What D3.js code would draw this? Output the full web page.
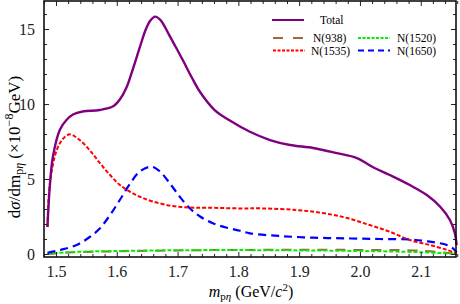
<!DOCTYPE html>
<html>
<head>
<meta charset="utf-8">
<script src="https://cdn.jsdelivr.net/npm/d3@7"></script>
<style>
  body { margin: 0; background: #fff; }
</style>
</head>
<body>
<svg id="chart" width="460" height="304"></svg>
<script>
// data (m in GeV/c^2, dsigma/dm in 1e-8 GeV)
var totalM = [1.486, 1.490, 1.495, 1.5066, 1.5176, 1.528, 1.544, 1.572, 1.594, 1.605, 1.616, 1.627, 1.638, 1.648, 1.655, 1.663, 1.672, 1.685, 1.697, 1.709, 1.723, 1.737, 1.761, 1.786, 1.819, 1.852, 1.885, 1.923, 1.962, 1.995, 2.021, 2.049, 2.082, 2.110, 2.132, 2.148, 2.156, 2.159]
var totalV = [1.8, 4.6, 6.5, 8.3, 8.95, 9.3, 9.5, 9.6, 9.85, 10.3, 11.1, 12.4, 13.8, 15.0, 15.55, 15.83, 15.6, 14.7, 13.8, 12.9, 11.8, 10.8, 9.6, 8.9, 8.15, 7.6, 7.27, 7.07, 6.73, 6.4, 5.8, 5.27, 4.6, 3.93, 3.15, 2.27, 1.4, 0.6]

var n1535M = [1.486, 1.490, 1.501, 1.512, 1.523, 1.539, 1.556, 1.572, 1.589, 1.605, 1.622, 1.638, 1.66, 1.692, 1.72, 1.748, 1.803, 1.840, 1.896, 1.939, 1.979, 2.016, 2.049, 2.082, 2.115, 2.143, 2.158]
var n1535V = [1.8, 4.7, 6.9, 7.7, 7.98, 7.6, 6.9, 6.07, 5.27, 4.6, 4.15, 3.82, 3.49, 3.2, 3.1, 3.09, 3.04, 3.04, 2.93, 2.73, 2.4, 1.93, 1.49, 0.93, 0.6, 0.27, 0.05]

var n1650M = [1.486, 1.507, 1.534, 1.556, 1.572, 1.589, 1.605, 1.622, 1.638, 1.657, 1.671, 1.6875, 1.704, 1.72, 1.737, 1.758, 1.781, 1.803, 1.819, 1.868, 1.923, 1.979, 2.033, 2.082, 2.115, 2.143, 2.153, 2.159]
var n1650V = [0.08, 0.27, 0.6, 1.15, 1.7, 2.6, 3.6, 4.7, 5.5, 5.82, 5.5, 4.7, 3.8, 3.05, 2.5, 2.05, 1.75, 1.55, 1.38, 1.2, 1.09, 1.04, 1.0, 0.97, 0.82, 0.6, 0.38, 0.1]

var smallM = [1.486, 1.52, 1.6, 1.7, 1.8, 1.9, 2.0, 2.1, 2.159]
var n1520V = [0.0, 0.12, 0.2, 0.25, 0.26, 0.24, 0.2, 0.12, 0.0]
var n938V = [0.0, 0.1, 0.18, 0.24, 0.27, 0.28, 0.27, 0.22, 0.0]

var xTicks = [1.5, 1.6, 1.7, 1.8, 1.9, 2.0, 2.1]
var yTicks = [0, 5, 10, 15]

var serif = "'Liberation Serif'"
var svg = d3.select('#chart')
var mLeft = 44, mRight = 456, mTop = 1, mBottom = 257

var x = d3.scaleLinear().domain([1.4803, 2.158]).range([mLeft, mRight])
var y = d3.scaleLinear().domain([-0.2, 16.87]).range([mBottom, mTop])

// curves
var line = d3.line()
  .x(d => x(d[0]))
  .y(d => y(d[1]))
  .curve(d3.curveCatmullRom.alpha(0.5))

var series = [
  { m: smallM, v: n938V, color: '#a0693c', width: 2, dash: '10,8' },
  { m: smallM, v: n1520V, color: '#00ee00', width: 2, dash: '4,2' },
  { m: n1650M, v: n1650V, color: '#0000ff', width: 2.2, dash: '8,5' },
  { m: n1535M, v: n1535V, color: '#ff0000', width: 2, dash: '4,2' },
  { m: totalM, v: totalV, color: '#800080', width: 2.4, dash: null }
]

var plot = svg.append('g')
series.forEach(function(s) {
  plot.append('path')
    .datum(d3.zip(s.m, s.v))
    .attr('d', line)
    .attr('fill', 'none')
    .attr('stroke', s.color)
    .attr('stroke-width', s.width)
    .attr('stroke-dasharray', s.dash)
})

// frame with inward ticks on all sides
var minorX = d3.range(1.48, 2.16, 0.02).filter(v => xTicks.every(t => Math.abs(t - v) > 0.001))
var minorY = d3.range(0, 17, 1).filter(v => v % 5 != 0)

svg.append('g')
  .attr('transform', 'translate(0,' + mBottom + ')')
  .call(d3.axisBottom(x).tickValues(xTicks).tickSizeInner(-5).tickSizeOuter(0).tickPadding(9).tickFormat(d3.format('.1f')))
svg.append('g')
  .attr('transform', 'translate(0,' + mBottom + ')')
  .call(d3.axisBottom(x).tickValues(minorX).tickSizeInner(-3).tickSizeOuter(0).tickFormat(''))
svg.append('g')
  .attr('transform', 'translate(0,' + mTop + ')')
  .call(d3.axisTop(x).tickValues(xTicks).tickSizeInner(-5).tickSizeOuter(0).tickFormat(''))
svg.append('g')
  .attr('transform', 'translate(0,' + mTop + ')')
  .call(d3.axisTop(x).tickValues(minorX).tickSizeInner(-3).tickSizeOuter(0).tickFormat(''))

svg.append('g')
  .attr('transform', 'translate(' + mLeft + ',0)')
  .call(d3.axisLeft(y).tickValues(yTicks).tickSizeInner(-5).tickSizeOuter(0).tickPadding(9))
svg.append('g')
  .attr('transform', 'translate(' + mLeft + ',0)')
  .call(d3.axisLeft(y).tickValues(minorY).tickSizeInner(-3).tickSizeOuter(0).tickFormat(''))
svg.append('g')
  .attr('transform', 'translate(' + mRight + ',0)')
  .call(d3.axisRight(y).tickValues(yTicks).tickSizeInner(-5).tickSizeOuter(0).tickFormat(''))
svg.append('g')
  .attr('transform', 'translate(' + mRight + ',0)')
  .call(d3.axisRight(y).tickValues(minorY).tickSizeInner(-3).tickSizeOuter(0).tickFormat(''))

svg.selectAll('.domain').remove()
svg.selectAll('.tick line').attr('stroke', '#222').attr('stroke-width', 1)
svg.selectAll('.tick text')
  .style('font-family', serif)
  .style('font-size', '16px')
  .attr('fill', '#222')

svg.append('rect')
  .attr('x', mLeft).attr('y', mTop)
  .attr('width', mRight - mLeft).attr('height', mBottom - mTop)
  .attr('fill', 'none')
  .attr('stroke', '#111')
  .attr('stroke-width', 1.6)

// axis titles
var xl = svg.append('text')
  .attr('x', 251).attr('y', 297)
  .attr('text-anchor', 'middle')
  .style('font-family', serif)
  .style('font-size', '16px')
xl.append('tspan').style('font-style', 'italic').text('m')
xl.append('tspan').attr('dy', 3).style('font-size', '11px').text('p')
xl.append('tspan').style('font-size', '11px').style('font-style', 'italic').text('η')
xl.append('tspan').attr('dy', -3).text(' (GeV/')
xl.append('tspan').style('font-style', 'italic').text('c')
xl.append('tspan').attr('dy', -6).style('font-size', '11px').text('2')
xl.append('tspan').attr('dy', 6).text(')')

var yl = svg.append('text')
  .attr('transform', 'translate(20,' + 147 + ') rotate(-90)')
  .attr('text-anchor', 'middle')
  .style('font-family', serif)
  .style('font-size', '17px')
yl.append('tspan').text('d')
yl.append('tspan').style('font-style', 'italic').text('σ')
yl.append('tspan').text('/dm')
yl.append('tspan').attr('dy', 3).style('font-size', '12px').text('p')
yl.append('tspan').style('font-size', '12px').style('font-style', 'italic').text('η')
yl.append('tspan').attr('dy', -3).text(' (×10')
yl.append('tspan').attr('dy', -7).style('font-size', '12px').text('−8')
yl.append('tspan').attr('dy', 7).text('GeV)')

// legend
var legend = [
  { name: 'Total', s: 4, lx: 272, ly: 20, tx: 320, dash: null },
  { name: 'N(938)', s: 0, lx: 273, ly: 38, tx: 313, dash: '10,10' },
  { name: 'N(1520)', s: 1, lx: 358, ly: 38, tx: 397, dash: '3,1.5' },
  { name: 'N(1535)', s: 3, lx: 273, ly: 50.5, tx: 311, dash: '3,1.5' },
  { name: 'N(1650)', s: 2, lx: 358, ly: 50.5, tx: 397, dash: '6,4' }
]
var lg = svg.append('g')
legend.forEach(function(d) {
  var s = series[d.s]
  lg.append('line')
    .attr('x1', d.lx).attr('x2', d.lx + 32)
    .attr('y1', d.ly).attr('y2', d.ly)
    .attr('stroke', s.color)
    .attr('stroke-width', 2)
    .attr('stroke-dasharray', d.dash)
  lg.append('text')
    .attr('x', d.tx).attr('y', d.ly + 4)
    .style('font-family', serif)
    .style('font-size', '11.5px')
    .text(d.name)
})
</script>
</body>
</html>
